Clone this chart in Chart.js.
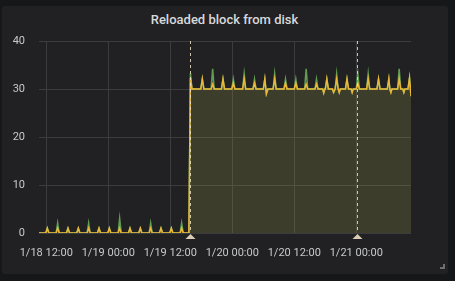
<!DOCTYPE html>
<html>
<head>
<meta charset="utf-8">
<script src="https://cdn.jsdelivr.net/npm/chart.js@4.4.1/dist/chart.umd.min.js"></script>
<style>
  html, body { margin:0; padding:0; background:#161719; width:455px; height:281px; overflow:hidden; }
  #panel { position:absolute; left:2px; top:6px; width:446px; height:268px; background:#212124; border-radius:3px; }
  #title { position:absolute; left:0; top:12px; width:449px; text-align:center; font-family:Roboto, sans-serif; font-size:13px; font-weight:500; color:#d8d9da; }
  #grip { position:absolute; left:440px; top:264px; width:3px; height:3px; border-right:2px solid #6e6e70; border-bottom:2px solid #6e6e70; }
  #wrap { position:absolute; left:0; top:0; width:455px; height:281px; }
</style>
</head>
<body>
<div id="panel"></div>
<div id="title">Reloaded block from disk</div>
<div id="grip"></div>
<div id="wrap"><canvas id="c" width="455" height="281"></canvas></div>
<script>
// x values: hours since 1/18 12:00
const hours = [
  -1.41,
  -0.1,0.2,0.5,  1.9,2.2,2.5,  3.9,4.2,4.5,  5.9,6.2,6.5,  7.9,8.2,8.5,
  9.9,10.2,10.5,  11.9,12.2,12.5,  13.9,14.2,14.5,  15.9,16.2,16.5,
  17.9,18.2,18.5,  19.9,20.2,20.5,  21.9,22.2,22.5,  23.9,24.2,24.5,  25.9,26.2,26.5,
  27.6,27.9,28.2,
  29.9,30.2,30.5,  31.9,32.2,32.5,  33.9,34.2,34.5,  35.9,36.2,36.5,
  38.0,38.3,38.6,  40.0,40.3,40.6,  42.0,42.3,42.6,42.9,
  43.9,44.2,44.5,  46.0,46.3,46.6,  48.0,48.3,48.6,  50.0,50.3,50.6,  52.0,52.3,52.6,
  53.5,53.7,53.9,  54.0,54.3,54.6,  55.4,55.6,55.9,  56.2,56.5,56.7,56.9,
  57.9,58.2,58.5,  59.0,59.2,59.4,  60.0,60.3,60.6,  62.0,62.3,62.6,  64.0,64.3,64.6,
  66.0,66.3,66.5,66.7,66.9,  68.0,68.3,68.6,  69.0,69.2,69.4,  70.0,70.3,70.59
];
const yellowValues = [
  0,
  0,1,0,  0,1,0,  0,1,0,  0,1,0,  0,1,0,
  0,1,0,  0,1,0,  0,1,0,  0,1,0,
  0,1,0,  0,1,0,  0,1,0,  0,1,0,  0,1,0,
  0,32.3,30,
  30,32.1,30,  30,31,30,  30,32.1,30,  30,31.2,30,
  30,32.1,30,  30,31.2,30,  30,32.1,29.0,30,
  30,32.1,30,  30,31.2,30,  30,31.2,30,  30,31.0,30,  30,31.0,30,
  30,29.2,30,  30,32.1,30,  30,29.3,30,  32.1,30,29.3,30,
  30,32.1,30,  30,29.3,30,  30,31.2,30,  30,32.1,30,  30,32.1,30,
  30,32.1,30,29.3,30,  30,32.1,30,  30,29.3,30,  30,32.3,28.5
];
const greenValues = [
  0,
  0,1,0,  0,2.1,0,  0,1,0,  0,1,0,  0,2.1,0,
  0,1,0,  0,1,0,  0,3.1,0,  0,1,0,
  0,1,0,  0,2.1,0,  0,1,0,  0,1,0,  0,2.1,0,
  0,33.3,30,
  30,32.1,30,  30,34.2,30,  30,32.1,30,  30,32.1,30,
  30,33.2,30,  30,32.1,30,  30,32.1,29.0,30,
  30,33.2,30,  30,32.1,30,  30,32.1,30,  30,34.2,30,  30,32.1,30,
  30,29.2,30,  30,32.1,30,  30,29.3,30,  33.2,30,29.3,30,
  30,32.1,30,  30,29.3,30,  30,33.2,30,  30,33.2,30,  30,32.1,30,
  30,32.1,30,29.3,30,  30,34.2,30,  30,29.3,30,  30,32.3,28.5
];
const tickHours = [0, 12, 24, 36, 48, 60];
const tickLabels = ['1/18 12:00','1/19 00:00','1/19 12:00','1/20 00:00','1/20 12:00','1/21 00:00'];
const annotationHours = [27.81, 60.15];
const xMin = -1.41, xMax = 70.59;

const toPts = vals => hours.map((h, i) => ({x: h, y: vals[i]}));

const annotationPlugin = {
  id: 'annotations',
  afterDatasetsDraw(chart) {
    const {ctx, chartArea, scales} = chart;
    ctx.save();
    annotationHours.forEach(h => {
      const x = Math.round(scales.x.getPixelForValue(h)) + 0.5;
      ctx.strokeStyle = 'rgba(235,222,195,0.85)';
      ctx.lineWidth = 1;
      ctx.setLineDash([3, 3]);
      ctx.beginPath();
      ctx.moveTo(x, chartArea.top);
      ctx.lineTo(x, chartArea.bottom);
      ctx.stroke();
      ctx.setLineDash([]);
      ctx.fillStyle = '#d9ccb2';
      ctx.beginPath();
      ctx.moveTo(x, chartArea.bottom + 1);
      ctx.lineTo(x - 5, chartArea.bottom + 6);
      ctx.lineTo(x + 5, chartArea.bottom + 6);
      ctx.closePath();
      ctx.fill();
    });
    ctx.restore();
  }
};

new Chart(document.getElementById('c'), {
  type: 'line',
  data: {
    datasets: [
      { data: toPts(yellowValues), borderColor: '#EAB839', backgroundColor: 'rgba(234,184,57,0.1)', borderWidth: 1.5, fill: 'origin', pointRadius: 0, tension: 0 },
      { data: toPts(greenValues), borderColor: '#629E51', backgroundColor: 'rgba(126,178,109,0.1)', borderWidth: 1.5, fill: 'origin', pointRadius: 0, tension: 0 }
    ]
  },
  options: {
    responsive: false,
    animation: false,
    events: [],
    layout: { padding: { left: 0, right: 44, top: 41, bottom: 18 } },
    plugins: { legend: { display: false }, tooltip: { enabled: false } },
    scales: {
      x: {
        type: 'linear', min: xMin, max: xMax,
        afterBuildTicks: s => { s.ticks = tickHours.map(v => ({value: v})); },
        afterFit: s => { s.height = 30; },
        grid: { color: '#3c3c3f', drawTicks: false },
        border: { display: false },
        ticks: { autoSkip: false, maxRotation: 0, padding: 14, color: '#c8c9ca', font: { family: 'Roboto', size: 11 },
          callback: v => { const i = tickHours.indexOf(v); return i >= 0 ? tickLabels[i] : ''; } }
      },
      y: {
        min: 0, max: 40,
        afterFit: s => { s.width = 39; },
        grid: { color: '#3c3c3f', drawTicks: false },
        border: { display: false },
        ticks: { stepSize: 10, padding: 14, color: '#c8c9ca', font: { family: 'Roboto', size: 11 } }
      }
    }
  },
  plugins: [annotationPlugin]
});
</script>
</body>
</html>
